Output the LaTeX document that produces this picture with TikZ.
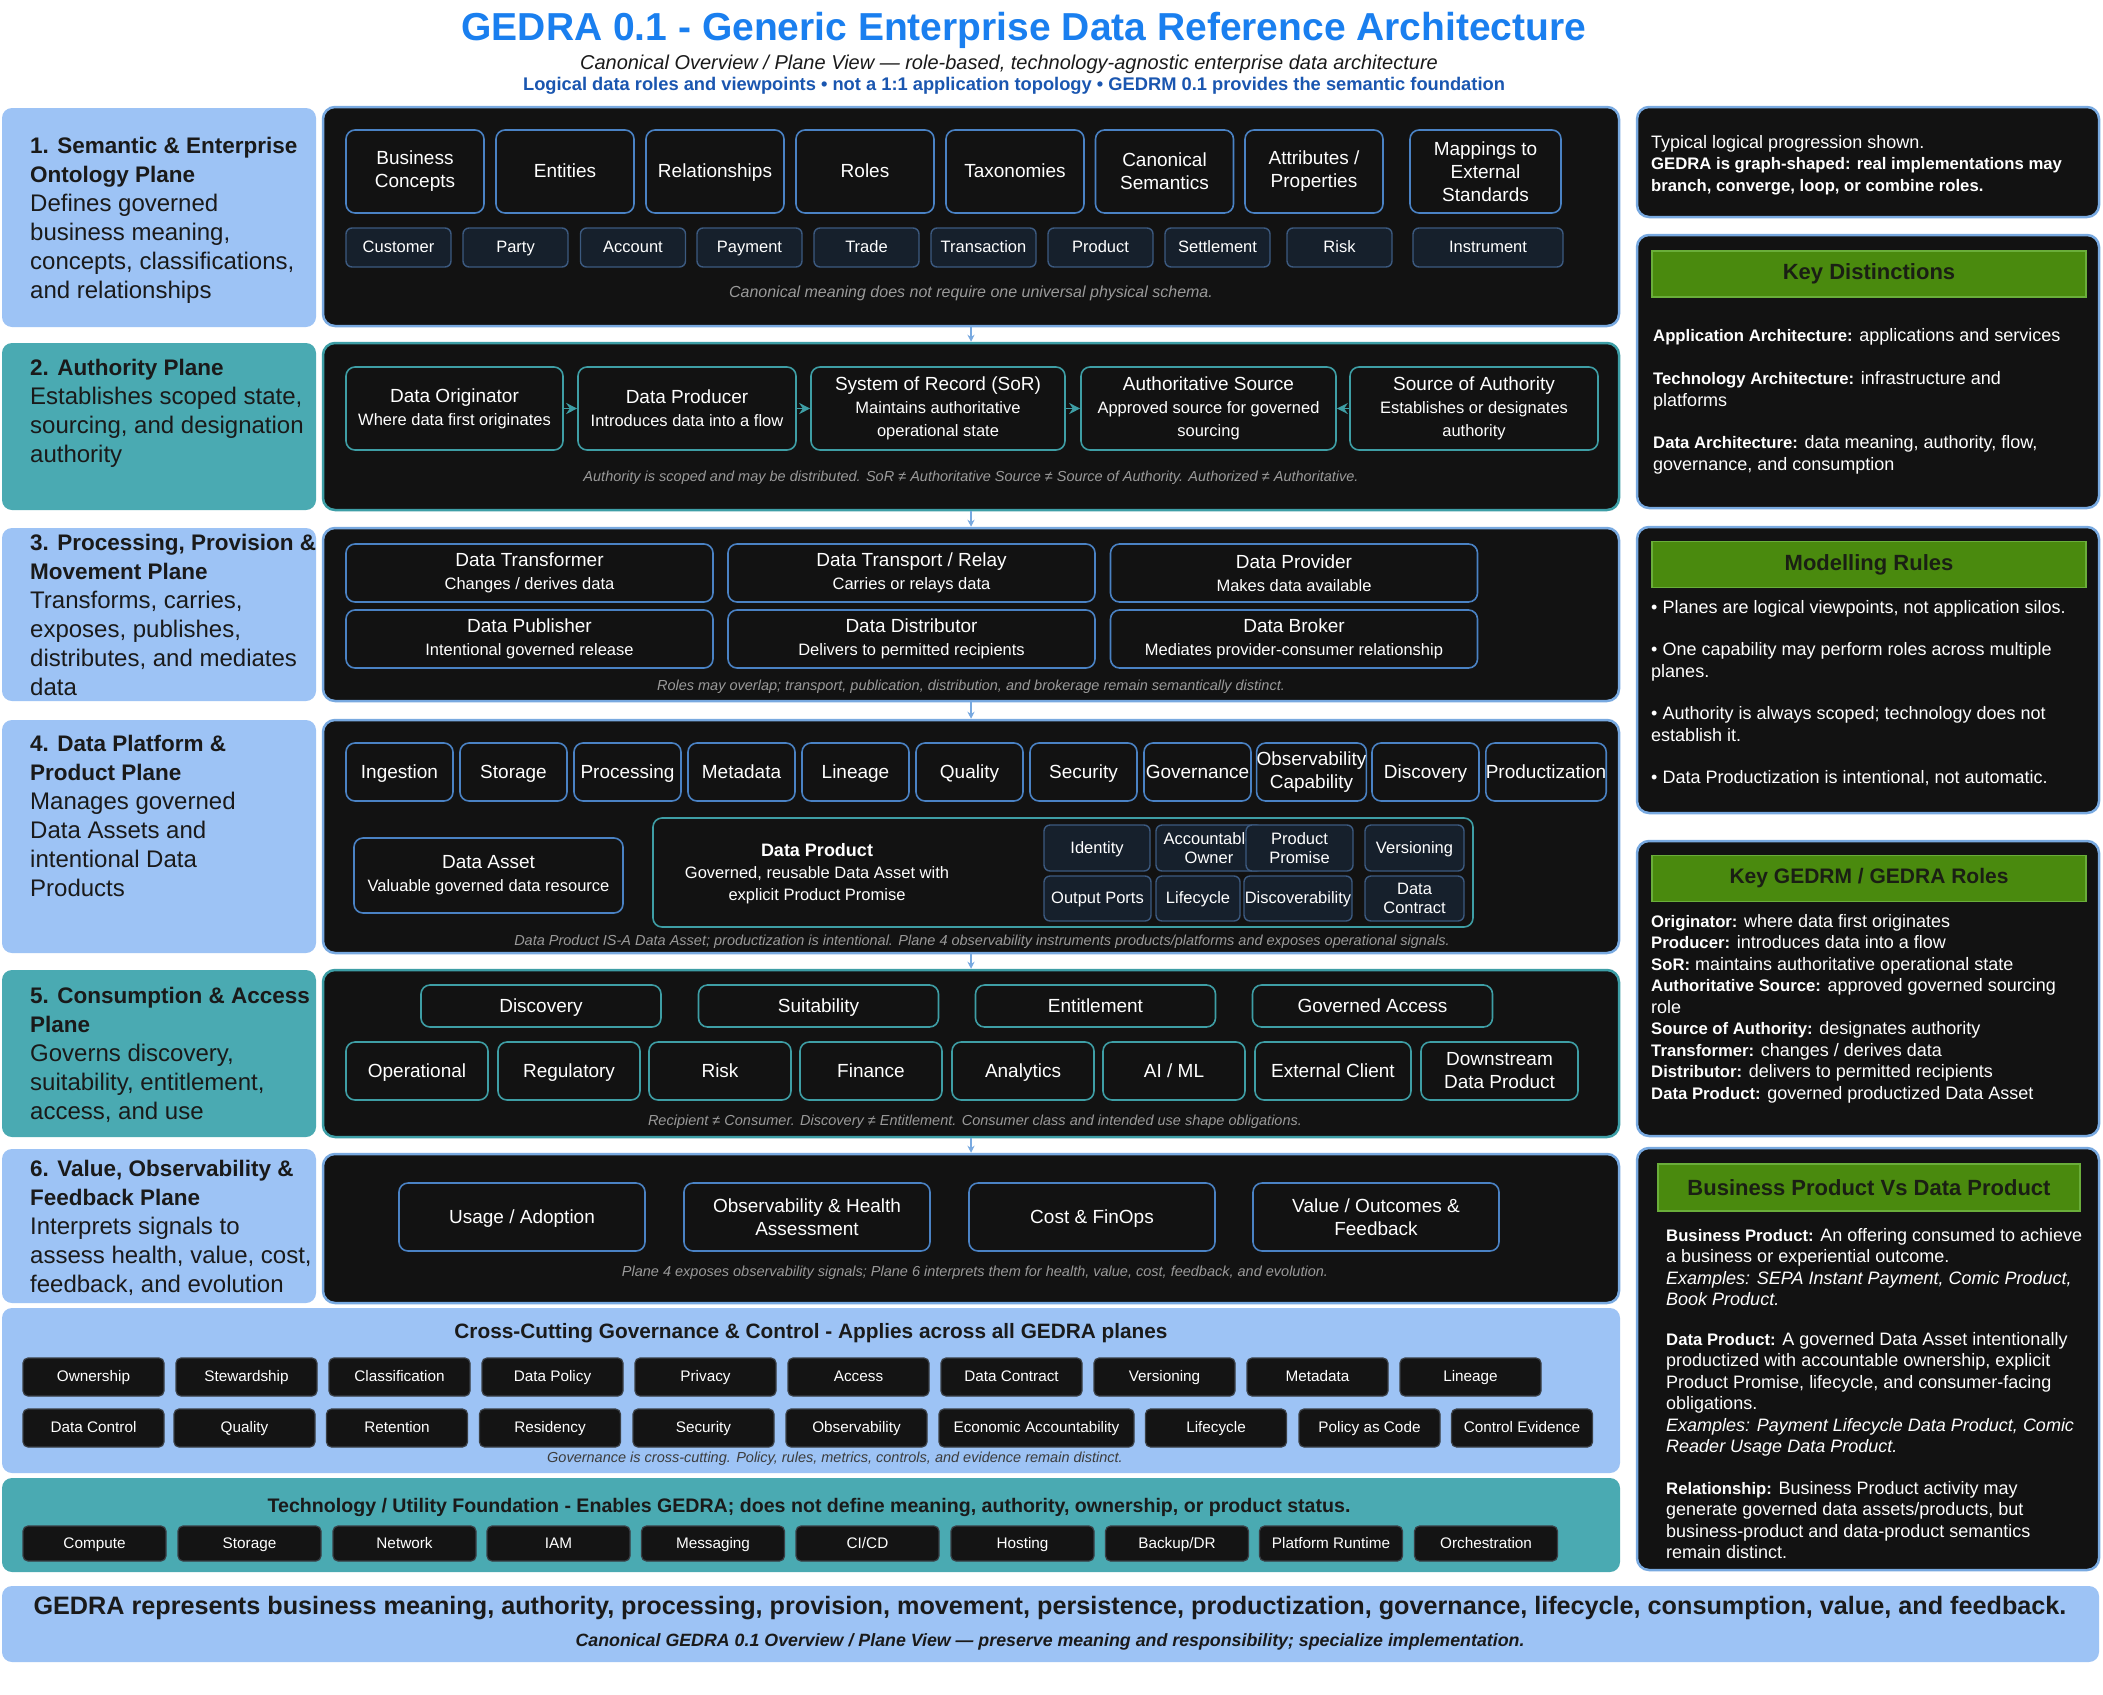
\documentclass[tikz,border=0pt]{standalone}
\usepackage{fontspec}
\setmainfont{Liberation Sans}
\usetikzlibrary{arrows.meta}
\newcommand\fsz[2]{\fontsize{#1}{#2}\selectfont}
\newcommand\detail{\fsz{16.5}{21}}
\newcommand\kw[1]{{\fsz{16.7}{21.5}\bfseries #1}}
\newcommand\lanehead[1]{{\fsz{22.5}{29}\bfseries #1}}
\definecolor{titleblue}{HTML}{1A7FEF}
\definecolor{subblue}{HTML}{1A56B0}
\definecolor{lanesky}{HTML}{9DC3F5}
\definecolor{laneteal}{HTML}{4AAAB2}
\definecolor{panel}{HTML}{121212}
\definecolor{planesky}{HTML}{78A9E0}
\definecolor{planeteal}{HTML}{3D9EA6}
\definecolor{roleblue}{HTML}{4A82C4}
\definecolor{roleteal}{HTML}{3E9EA5}
\definecolor{tagbg}{HTML}{16202C}
\definecolor{tagline}{HTML}{3C5A80}
\definecolor{chipbg}{HTML}{141414}
\definecolor{chipline}{HTML}{3A3F45}
\definecolor{notegray}{HTML}{9A9A9A}
\definecolor{headgreen}{HTML}{4A8A0E}
\definecolor{headline}{HTML}{6AAE3A}
\definecolor{headtext}{HTML}{1A1F14}
\definecolor{downblue}{HTML}{78A9E0}
\definecolor{ink}{HTML}{1A1A1A}
\begin{document}
\begin{tikzpicture}[x=1pt, y=-1pt,
  lane/.style={rounded corners=10pt, minimum width=314pt, inner sep=0pt},
  lanetext/.style={anchor=north west, align=left, inner sep=0pt, text=ink, font=\fsz{24}{29}},
  plane/.style={draw, line width=2.5pt, fill=panel, rounded corners=12pt, minimum width=1296pt, inner sep=0pt},
  role/.style={draw=roleblue, line width=1.6pt, fill=panel, rounded corners=9pt, text=white, align=center, inner sep=0pt, font=\fsz{19}{23}},
  one/.style={text height=15pt, text depth=3pt},
  tag/.style={draw=tagline, fill=tagbg, line width=1.4pt, rounded corners=6pt, text=white, align=center, inner sep=0pt, font=\fsz{16.5}{19.5}},
  onetag/.style={text height=13pt, text depth=2.5pt},
  chip/.style={fill=chipbg, draw=chipline, line width=1.2pt, rounded corners=5pt, text=white, font=\fsz{15.3}{18}, minimum width=141pt, minimum height=38pt, inner sep=0pt, text height=12pt, text depth=2.5pt},
  note/.style={text=notegray, font=\fsz{14.5}{17}\itshape, inner sep=0pt},
  side/.style={draw=planesky, line width=2.5pt, fill=panel, rounded corners=12pt, minimum width=462pt, inner sep=0pt},
  sidetext/.style={anchor=north west, align=left, inner sep=0pt, text=white, font=\fsz{18}{21.5}},
  head/.style={fill=headgreen, draw=headline, line width=1.5pt, minimum width=434pt, minimum height=46pt, inner sep=0pt, font=\fsz{22}{26}\bfseries, text=headtext},
  flow/.style={draw=roleteal, line width=1.5pt, -{Stealth[length=11pt, width=11pt]}},
  down/.style={draw=downblue, line width=1.3pt, -{Stealth[length=7pt, width=7pt]}}]
  \useasboundingbox (0,0) rectangle (2103,1694);
  \fill[white] (0,0) rectangle (2103,1694);

  % Title block
  \node[font=\fsz{39}{44}\bfseries, text=titleblue] (title) at (1024,30) {GEDRA 0.1 - Generic Enterprise Data Reference Architecture};
  \node[font=\fsz{20}{24}\itshape, text=ink] (sub1) at (1009,64) {Canonical Overview / Plane View — role-based, technology-agnostic enterprise data architecture};
  \node[font=\fsz{18.3}{22}\bfseries, text=subblue] (sub2) at (1014,86) {Logical data roles and viewpoints • not a 1:1 application topology • GEDRM 0.1 provides the semantic foundation};

  % Plane labels (left column)
  \node[lane, fill=lanesky, minimum height=219pt] (l1) at (159,217.5) {};
  \node[lane, fill=laneteal, minimum height=167pt] (l2) at (159,426.5) {};
  \node[lane, fill=lanesky, minimum height=173pt] (l3) at (159,614.5) {};
  \node[lane, fill=lanesky, minimum height=233pt] (l4) at (159,836.5) {};
  \node[lane, fill=laneteal, minimum height=167pt] (l5) at (159,1053.5) {};
  \node[lane, fill=lanesky, minimum height=154pt] (l6) at (159,1226) {};
  \node[lanetext] (t1) at (30,137) {\lanehead{1. Semantic \& Enterprise}\\\lanehead{Ontology Plane}\\Defines governed\\business meaning,\\concepts, classifications,\\and relationships};
  \node[lanetext] (t2) at (30,359) {\lanehead{2. Authority Plane}\\Establishes scoped state,\\sourcing, and designation\\authority};
  \node[lanetext] (t3) at (30,534) {\lanehead{3. Processing, Provision \&}\\\lanehead{Movement Plane}\\Transforms, carries,\\exposes, publishes,\\distributes, and mediates\\data};
  \node[lanetext] (t4) at (30,735) {\lanehead{4. Data Platform \&}\\\lanehead{Product Plane}\\Manages governed\\Data Assets and\\intentional Data\\Products};
  \node[lanetext] (t5) at (30,987) {\lanehead{5. Consumption \& Access}\\\lanehead{Plane}\\Governs discovery,\\suitability, entitlement,\\access, and use};
  \node[lanetext] (t6) at (30,1160) {\lanehead{6. Value, Observability \&}\\\lanehead{Feedback Plane}\\Interprets signals to\\assess health, value, cost,\\feedback, and evolution};

  % Plane panels
  \node[plane, draw=planesky, minimum height=219pt] (p1) at (971,216.5) {};
  \node[plane, draw=planeteal, minimum height=167pt] (p2) at (971,426.5) {};
  \node[plane, draw=planesky, minimum height=173pt] (p3) at (971,614.5) {};
  \node[plane, draw=planesky, minimum height=233pt] (p4) at (971,836.5) {};
  \node[plane, draw=planeteal, minimum height=167pt] (p5) at (971,1053.5) {};
  \node[plane, draw=planesky, minimum height=149pt] (p6) at (971,1228.5) {};
  \draw[down] (p1.south) -- (p2.north);
  \draw[down] (p2.south) -- (p3.north);
  \draw[down] (p3.south) -- (p4.north);
  \draw[down] (p4.south) -- (p5.north);
  \draw[down] (p5.south) -- (p6.north);

  % Plane 1: semantics
  \node[role, minimum width=138pt, minimum height=83pt] (bc) at (415,171.5) {Business\\Concepts};
  \node[role, one, minimum width=138pt, minimum height=83pt] (ent) at (565,171.5) {Entities};
  \node[role, one, minimum width=138pt, minimum height=83pt] (rel) at (715,171.5) {Relationships};
  \node[role, one, minimum width=138pt, minimum height=83pt] (rol) at (865,171.5) {Roles};
  \node[role, one, minimum width=138pt, minimum height=83pt] (tax) at (1015,171.5) {Taxonomies};
  \node[role, minimum width=138pt, minimum height=83pt] (cs) at (1164.5,171.5) {Canonical\\Semantics};
  \node[role, minimum width=138pt, minimum height=83pt] (att) at (1314,171.5) {Attributes /\\Properties};
  \node[role, minimum width=151pt, minimum height=83pt] (map) at (1485.5,171.5) {Mappings to\\External\\Standards};
  \node[tag, onetag, minimum width=105pt, minimum height=39pt] (cus) at (398.5,247.5) {Customer};
  \node[tag, onetag, minimum width=105pt, minimum height=39pt] (par) at (515.5,247.5) {Party};
  \node[tag, onetag, minimum width=105pt, minimum height=39pt] (acc) at (633,247.5) {Account};
  \node[tag, onetag, minimum width=105pt, minimum height=39pt] (pay) at (749.5,247.5) {Payment};
  \node[tag, onetag, minimum width=105pt, minimum height=39pt] (tra) at (866.5,247.5) {Trade};
  \node[tag, onetag, minimum width=105pt, minimum height=39pt] (txn) at (983.5,247.5) {Transaction};
  \node[tag, onetag, minimum width=105pt, minimum height=39pt] (prd) at (1100.5,247.5) {Product};
  \node[tag, onetag, minimum width=105pt, minimum height=39pt] (set) at (1217.5,247.5) {Settlement};
  \node[tag, onetag, minimum width=105pt, minimum height=39pt] (rsk) at (1339.5,247.5) {Risk};
  \node[tag, onetag, minimum width=150pt, minimum height=39pt] (ins) at (1488,247.5) {Instrument};
  \node[note, font=\fsz{16}{19}\itshape] (n1) at (971,293) {Canonical meaning does not require one universal physical schema.};

  % Plane 2: authority chain
  \node[role, draw=roleteal, minimum width=217pt, minimum height=83pt] (orig) at (454.5,408.5) {Data Originator\\\detail Where data first originates};
  \node[role, draw=roleteal, minimum width=218pt, minimum height=83pt] (prod) at (687,408.5) {Data Producer\\\detail Introduces data into a flow};
  \node[role, draw=roleteal, minimum width=254pt, minimum height=83pt] (sor) at (938,408.5) {System of Record (SoR)\\\detail Maintains authoritative\\\detail operational state};
  \node[role, draw=roleteal, minimum width=255pt, minimum height=83pt] (auth) at (1208.5,408.5) {Authoritative Source\\\detail Approved source for governed\\\detail sourcing};
  \node[role, draw=roleteal, minimum width=248pt, minimum height=83pt] (soa) at (1474,408.5) {Source of Authority\\\detail Establishes or designates\\\detail authority};
  \draw[flow] (orig) -- (prod);
  \draw[flow] (prod) -- (sor);
  \draw[flow] (sor) -- (auth);
  \draw[flow] (soa) -- (auth);
  \node[note] (n2) at (971,478) {Authority is scoped and may be distributed. SoR ≠ Authoritative Source ≠ Source of Authority. Authorized ≠ Authoritative.};

  % Plane 3: processing roles
  \node[role, minimum width=367pt, minimum height=58pt] (dtf) at (529.5,573) {Data Transformer\\\detail Changes / derives data};
  \node[role, minimum width=367pt, minimum height=58pt] (dtr) at (911.5,573) {Data Transport / Relay\\\detail Carries or relays data};
  \node[role, minimum width=367pt, minimum height=58pt] (dpv) at (1294,573) {Data Provider\\\detail Makes data available};
  \node[role, minimum width=367pt, minimum height=58pt] (dpb) at (529.5,639) {Data Publisher\\\detail Intentional governed release};
  \node[role, minimum width=367pt, minimum height=58pt] (dds) at (911.5,639) {Data Distributor\\\detail Delivers to permitted recipients};
  \node[role, minimum width=367pt, minimum height=58pt] (dbr) at (1294,639) {Data Broker\\\detail Mediates provider-consumer relationship};
  \node[note] (n3) at (971,687) {Roles may overlap; transport, publication, distribution, and brokerage remain semantically distinct.};

  % Plane 4: platform capabilities and products
  \node[role, one, minimum width=107pt, minimum height=58pt] (c1) at (399.5,772) {Ingestion};
  \node[role, one, minimum width=107pt, minimum height=58pt] (c2) at (513.5,772) {Storage};
  \node[role, one, minimum width=107pt, minimum height=58pt] (c3) at (627.5,772) {Processing};
  \node[role, one, minimum width=107pt, minimum height=58pt] (c4) at (741.5,772) {Metadata};
  \node[role, one, minimum width=107pt, minimum height=58pt] (c5) at (855.5,772) {Lineage};
  \node[role, one, minimum width=107pt, minimum height=58pt] (c6) at (969.5,772) {Quality};
  \node[role, one, minimum width=107pt, minimum height=58pt] (c7) at (1083.5,772) {Security};
  \node[role, one, minimum width=107pt, minimum height=58pt] (c8) at (1197.5,772) {Governance};
  \node[role, minimum width=107pt, minimum height=58pt] (c9) at (1311.5,772) {Observability\\Capability};
  \node[role, one, minimum width=107pt, minimum height=58pt] (c10) at (1425.5,772) {Discovery};
  \node[role, one, minimum width=120pt, minimum height=58pt] (c11) at (1546,772) {Productization};
  \node[role, minimum width=269pt, minimum height=75pt] (asset) at (488.5,875.5) {Data Asset\\\detail Valuable governed data resource};
  \node[role, draw=roleteal, minimum width=820pt, minimum height=109pt] (dp) at (1063,872.5) {};
  \node[text=white, align=center, font=\fsz{18}{22}] (dptext) at (817,874) {\textbf{Data Product}\\\detail Governed, reusable Data Asset with\\\detail explicit Product Promise};
  \node[tag, onetag, minimum width=106pt, minimum height=46pt] (idn) at (1097,848) {Identity};
  \node[tag, minimum width=106pt, minimum height=46pt] (own) at (1209,848) {Accountable\\Owner};
  \node[tag, minimum width=107pt, minimum height=46pt] (prom) at (1299.5,848) {Product\\Promise};
  \node[tag, onetag, minimum width=99pt, minimum height=46pt] (ver) at (1414.5,848) {Versioning};
  \node[tag, onetag, minimum width=107pt, minimum height=45pt] (out) at (1097.5,898.5) {Output Ports};
  \node[tag, onetag, minimum width=84pt, minimum height=45pt] (lif) at (1198,898.5) {Lifecycle};
  \node[tag, onetag, minimum width=108pt, minimum height=45pt] (dis) at (1298,898.5) {Discoverability};
  \node[tag, minimum width=99pt, minimum height=45pt] (con) at (1414.5,898.5) {Data\\Contract};
  \node[note] (n4) at (982,942) {Data Product IS-A Data Asset; productization is intentional. Plane 4 observability instruments products/platforms and exposes operational signals.};

  % Plane 5: consumption
  \node[role, one, draw=roleteal, minimum width=240pt, minimum height=42pt] (a1) at (541,1006) {Discovery};
  \node[role, one, draw=roleteal, minimum width=240pt, minimum height=42pt] (a2) at (818.5,1006) {Suitability};
  \node[role, one, draw=roleteal, minimum width=240pt, minimum height=42pt] (a3) at (1095.5,1006) {Entitlement};
  \node[role, one, draw=roleteal, minimum width=240pt, minimum height=42pt] (a4) at (1372.5,1006) {Governed Access};
  \node[role, one, draw=roleteal, minimum width=142pt, minimum height=58pt] (u1) at (417,1071) {Operational};
  \node[role, one, draw=roleteal, minimum width=142pt, minimum height=58pt] (u2) at (569,1071) {Regulatory};
  \node[role, one, draw=roleteal, minimum width=142pt, minimum height=58pt] (u3) at (720,1071) {Risk};
  \node[role, one, draw=roleteal, minimum width=142pt, minimum height=58pt] (u4) at (871,1071) {Finance};
  \node[role, one, draw=roleteal, minimum width=142pt, minimum height=58pt] (u5) at (1023,1071) {Analytics};
  \node[role, one, draw=roleteal, minimum width=142pt, minimum height=58pt] (u6) at (1174,1071) {AI / ML};
  \node[role, one, draw=roleteal, minimum width=156pt, minimum height=58pt] (u7) at (1333,1071) {External Client};
  \node[role, draw=roleteal, minimum width=157pt, minimum height=58pt] (u8) at (1499.5,1071) {Downstream\\Data Product};
  \node[note] (n5) at (975,1122) {Recipient ≠ Consumer. Discovery ≠ Entitlement. Consumer class and intended use shape obligations.};

  % Plane 6: value and feedback
  \node[role, one, minimum width=246pt, minimum height=68pt] (v1) at (522,1217) {Usage / Adoption};
  \node[role, minimum width=246pt, minimum height=68pt] (v2) at (807,1217) {Observability \& Health\\Assessment};
  \node[role, one, minimum width=246pt, minimum height=68pt] (v3) at (1092,1217) {Cost \& FinOps};
  \node[role, minimum width=246pt, minimum height=68pt] (v4) at (1376,1217) {Value / Outcomes \&\\Feedback};
  \node[note] (n6) at (975,1273) {Plane 4 exposes observability signals; Plane 6 interprets them for health, value, cost, feedback, and evolution.};

  % Cross-cutting governance band
  \node[lane, fill=lanesky, minimum width=1618pt, minimum height=165pt] (gov) at (811,1390.5) {};
  \node[font=\fsz{20.8}{24}\bfseries, text=ink] (govtitle) at (811,1333) {Cross-Cutting Governance \& Control - Applies across all GEDRA planes};
  \node[chip] (g1) at (93.5,1377) {Ownership};
  \node[chip] (g2) at (246.5,1377) {Stewardship};
  \node[chip] (g3) at (399.5,1377) {Classification};
  \node[chip] (g4) at (552.5,1377) {Data Policy};
  \node[chip] (g5) at (705.5,1377) {Privacy};
  \node[chip] (g6) at (858.5,1377) {Access};
  \node[chip] (g7) at (1011.5,1377) {Data Contract};
  \node[chip] (g8) at (1164.5,1377) {Versioning};
  \node[chip] (g9) at (1317.5,1377) {Metadata};
  \node[chip] (g10) at (1470.5,1377) {Lineage};
  \node[chip] (h1) at (93.5,1428) {Data Control};
  \node[chip] (h2) at (244.5,1428) {Quality};
  \node[chip] (h3) at (397,1428) {Retention};
  \node[chip] (h4) at (550,1428) {Residency};
  \node[chip] (h5) at (703.5,1428) {Security};
  \node[chip] (h6) at (856.5,1428) {Observability};
  \node[chip, minimum width=195pt] (h7) at (1036.5,1428) {Economic Accountability};
  \node[chip] (h8) at (1216,1428) {Lifecycle};
  \node[chip] (h9) at (1369.5,1428) {Policy as Code};
  \node[chip] (h10) at (1522,1428) {Control Evidence};
  \node[note, text=ink!85] (ngov) at (835,1459) {Governance is cross-cutting. Policy, rules, metrics, controls, and evidence remain distinct.};

  % Technology foundation band
  \node[lane, fill=laneteal, minimum width=1618pt, minimum height=94pt] (tech) at (811,1525) {};
  \node[font=\fsz{19.6}{23}\bfseries, text=ink] (techtitle) at (809,1507) {Technology / Utility Foundation - Enables GEDRA; does not define meaning, authority, ownership, or product status.};
  \node[chip, minimum width=143pt, minimum height=35pt] (k1) at (94.5,1543.5) {Compute};
  \node[chip, minimum width=143pt, minimum height=35pt] (k2) at (249.5,1543.5) {Storage};
  \node[chip, minimum width=143pt, minimum height=35pt] (k3) at (404.5,1543.5) {Network};
  \node[chip, minimum width=143pt, minimum height=35pt] (k4) at (558.5,1543.5) {IAM};
  \node[chip, minimum width=143pt, minimum height=35pt] (k5) at (713,1543.5) {Messaging};
  \node[chip, minimum width=143pt, minimum height=35pt] (k6) at (867.5,1543.5) {CI/CD};
  \node[chip, minimum width=143pt, minimum height=35pt] (k7) at (1022.5,1543.5) {Hosting};
  \node[chip, minimum width=143pt, minimum height=35pt] (k8) at (1177,1543.5) {Backup/DR};
  \node[chip, minimum width=143pt, minimum height=35pt] (k9) at (1331,1543.5) {Platform Runtime};
  \node[chip, minimum width=143pt, minimum height=35pt] (k10) at (1486,1543.5) {Orchestration};

  % Right column notes
  \node[side, minimum height=110pt] (ra) at (1868,162) {};
  \node[sidetext] (ta) at (1651,135) {Typical logical progression shown.\\\kw{GEDRA is graph-shaped: real implementations may}\\\kw{branch, converge, loop, or combine roles.}};
  \node[side, minimum height=273pt] (rb) at (1868,371.5) {};
  \node[head] (hb) at (1869,274) {Key Distinctions};
  \node[sidetext] (tb) at (1653,328) {\kw{Application Architecture:} applications and services\\[22pt]\kw{Technology Architecture:} infrastructure and\\platforms\\[21pt]\kw{Data Architecture:} data meaning, authority, flow,\\governance, and consumption};
  \node[side, minimum height=286pt] (rc) at (1868,670) {};
  \node[head] (hc) at (1869,564.5) {Modelling Rules};
  \node[sidetext] (tc) at (1651,600) {• Planes are logical viewpoints, not application silos.\\[21pt]• One capability may perform roles across multiple\\planes.\\[21pt]• Authority is always scoped; technology does not\\establish it.\\[21pt]• Data Productization is intentional, not automatic.};
  \node[side, minimum height=295pt] (rd) at (1868,988.5) {};
  \node[head, font=\fsz{21}{25}\bfseries] (hd) at (1869,878.5) {Key GEDRM / GEDRA Roles};
  \node[sidetext] (td) at (1651,914) {\kw{Originator:} where data first originates\\\kw{Producer:} introduces data into a flow\\\kw{SoR:} maintains authoritative operational state\\\kw{Authoritative Source:} approved governed sourcing\\role\\\kw{Source of Authority:} designates authority\\\kw{Transformer:} changes / derives data\\\kw{Distributor:} delivers to permitted recipients\\\kw{Data Product:} governed productized Data Asset};
  \node[side, minimum height=422pt] (re) at (1868,1359) {};
  \node[head, minimum width=422pt, minimum height=47pt] (he) at (1869,1187.5) {Business Product Vs Data Product};
  \node[sidetext] (te) at (1666,1228) {\kw{Business Product:} An offering consumed to achieve\\a business or experiential outcome.\\\textit{Examples: SEPA Instant Payment, Comic Product,}\\\textit{Book Product.}\\[18pt]\kw{Data Product:} A governed Data Asset intentionally\\productized with accountable ownership, explicit\\Product Promise, lifecycle, and consumer-facing\\obligations.\\\textit{Examples: Payment Lifecycle Data Product, Comic}\\\textit{Reader Usage Data Product.}\\[20pt]\kw{Relationship:} Business Product activity may\\generate governed data assets/products, but\\business-product and data-product semantics\\remain distinct.};

  % Footer
  \node[lane, fill=lanesky, minimum width=2097pt, minimum height=76pt] (foot) at (1050.5,1624) {};
  \node[font=\fsz{25.2}{30}\bfseries, text=ink] (foot1) at (1050,1608) {GEDRA represents business meaning, authority, processing, provision, movement, persistence, productization, governance, lifecycle, consumption, value, and feedback.};
  \node[font=\fsz{17.8}{22}\bfseries\itshape, text=ink] (foot2) at (1050,1642) {Canonical GEDRA 0.1 Overview / Plane View — preserve meaning and responsibility; specialize implementation.};
\end{tikzpicture}
\end{document}
